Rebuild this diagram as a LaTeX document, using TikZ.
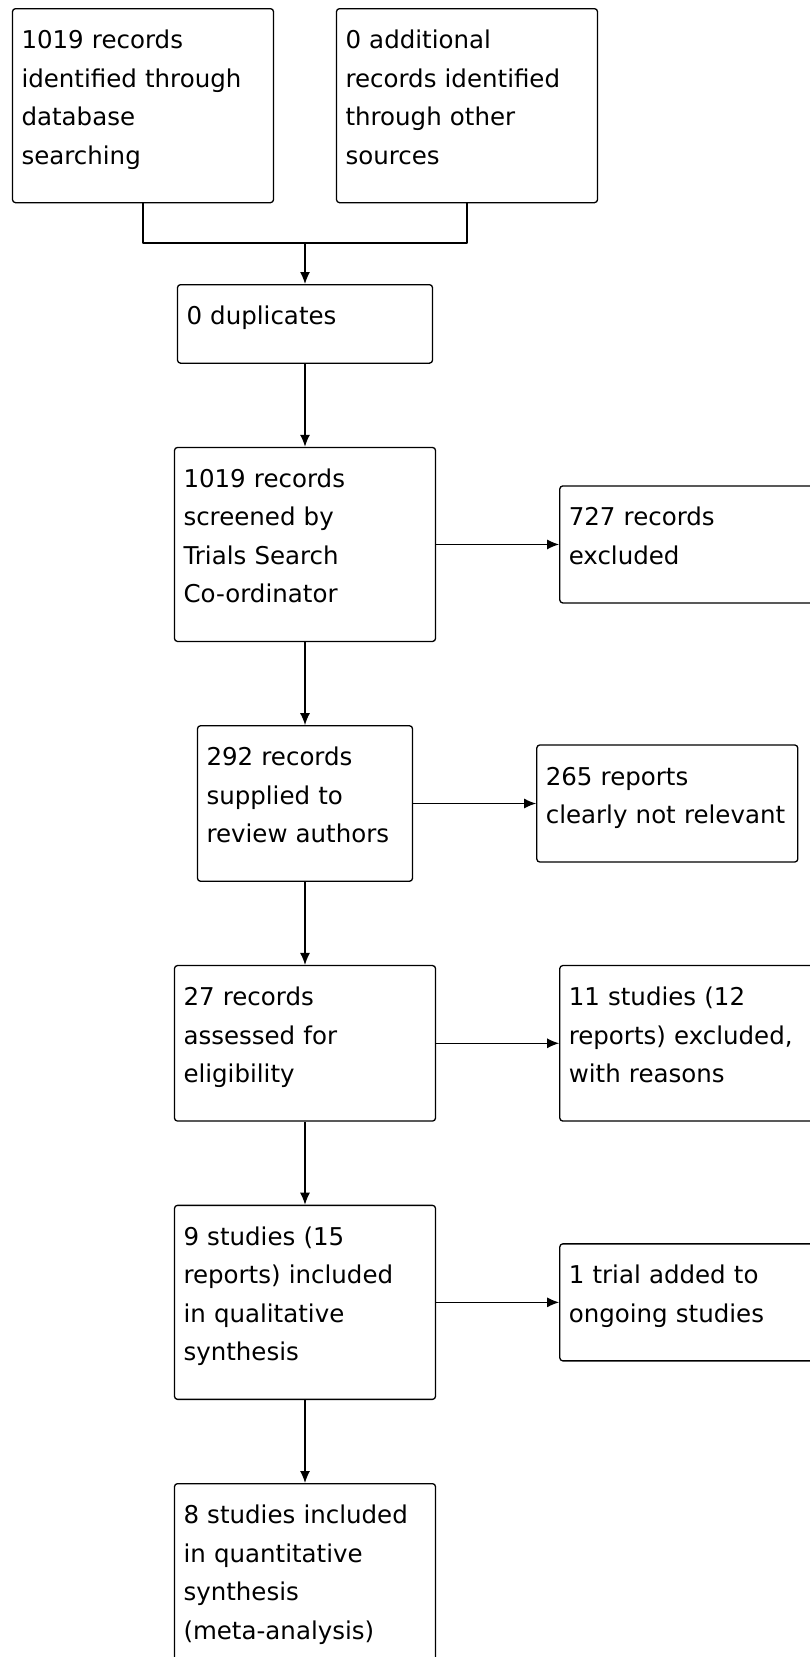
\documentclass[tikz,border=0pt]{standalone}
\usepackage{fontspec}
\newfontfamily\prismafont{DejaVu Sans}
\usetikzlibrary{positioning,arrows.meta}
\tikzset{
  stage/.style={draw, rounded corners=3pt, align=left, anchor=north,
    text width=243pt, inner xsep=9pt, inner ysep=0pt, text height=40pt,
    font=\prismafont\fontsize{24.5}{38.5}\selectfont},
}
\begin{document}
\begin{tikzpicture}[x=1pt, y=-1pt, line width=1.3pt, line join=round,
    >={Latex[length=12pt,width=10pt]}, node distance=83pt and 123pt]
  \fill[white] (0,0) rectangle (810,1657);
  \useasboundingbox (0,0) rectangle (810,1657);
  \clip (0,0) rectangle (810,1657);
  % sources
  \node[stage] (db) at (143,8) {1019 records\\identified through\\database\\searching\\\mbox{}};
  \node[stage] (other) at (467,8) {0 additional\\records identified\\through other\\sources\\\mbox{}};
  \coordinate (join) at (305,243);
  % main column
  \node[stage, text width=237pt] (dup) at (305,284) {0 duplicates\\\mbox{}};
  \node[stage, below=of dup] (screen) {1019 records\\screened by\\Trials Search\\Co-ordinator\\\mbox{}};
  \node[stage, text width=197pt, below=of screen] (supplied) {292 records\\supplied to\\review authors\\\mbox{}};
  \node[stage, below=of supplied] (assess) {27 records\\assessed for\\eligibility\\\mbox{}};
  \node[stage, below=of assess] (qual) {9 studies (15\\reports) included\\in qualitative\\synthesis\\\mbox{}};
  \node[stage, below=of qual] (quant) {8 studies included\\in quantitative\\synthesis\\(meta-analysis)\\\mbox{}};
  % side boxes
  \node[stage, right=of screen] (excl) {727 records\\excluded\\\mbox{}};
  \node[stage, right=of supplied] (irrel) {265 reports\\clearly not relevant\\\mbox{}};
  \node[stage, right=of assess] (reasons) {11 studies (12\\reports) excluded,\\with reasons\\\mbox{}};
  \node[stage, right=of qual] (ongoing) {1 trial added to\\ongoing studies\\\mbox{}};
  % connectors
  \draw (db.south) |- (join) -| (other.south);
  \draw[->] (join) -- (dup);
  \draw[->] (dup) -- (screen);
  \draw[->] (screen) -- (supplied);
  \draw[->] (supplied) -- (assess);
  \draw[->] (assess) -- (qual);
  \draw[->] (qual) -- (quant);
  \draw[->] (screen) -- (excl);
  \draw[->] (supplied) -- (irrel);
  \draw[->] (assess) -- (reasons);
  \draw[->] (qual) -- (ongoing);
\end{tikzpicture}
\end{document}
